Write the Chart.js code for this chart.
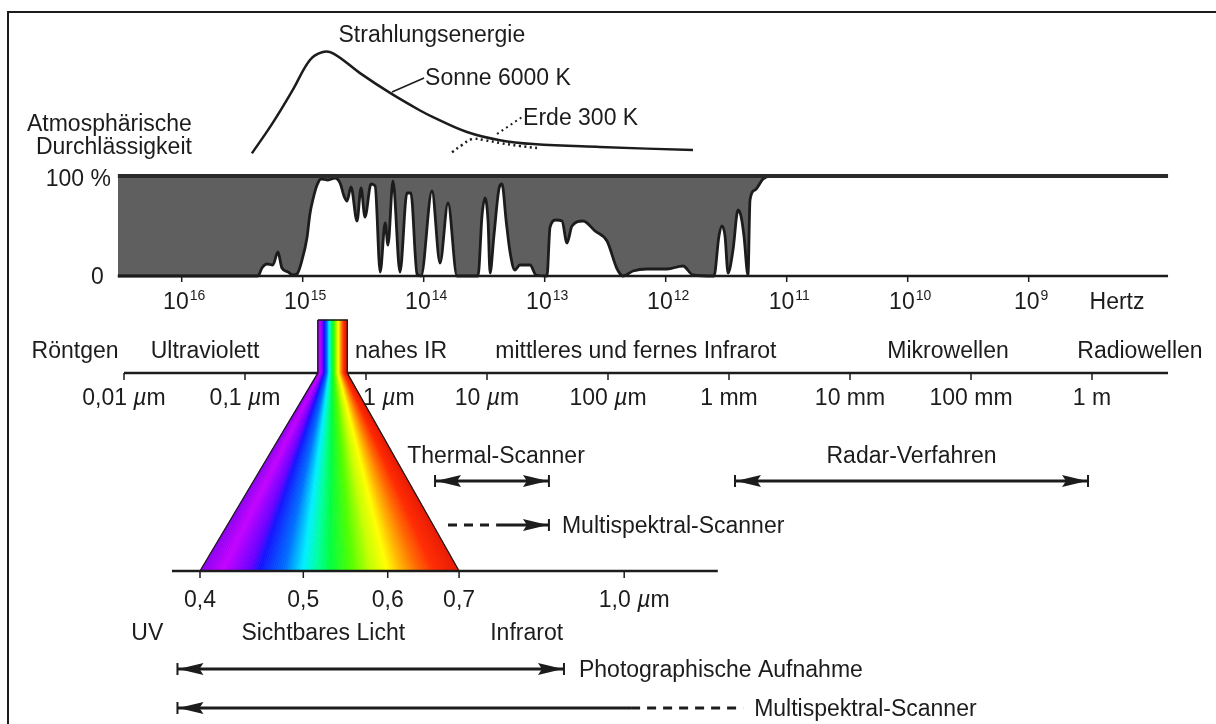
<!DOCTYPE html>
<html>
<head>
<meta charset="utf-8">
<script src="https://cdn.jsdelivr.net/npm/chart.js@4.4.0/dist/chart.umd.min.js"></script>
<style>
  html, body { margin: 0; padding: 0; background: #fff; }
  #wrap { width: 1216px; height: 724px; }
</style>
</head>
<body>
<div id="wrap"><canvas id="spektrum" width="1216" height="724"></canvas></div>
<script>
// --- Daten (Wellenlängen in µm) ---
// atmosphärische Durchlässigkeit in %
const transWavelength = [0.0089, 0.128, 0.138, 0.152, 0.170, 0.187, 0.202, 0.227, 0.249, 0.269,
  0.296, 0.325, 0.344, 0.365, 0.394, 0.425, 0.485, 0.555, 0.610, 0.658, 0.697, 0.752, 0.843,
  0.910, 0.981, 1.10, 1.19, 1.31, 1.44, 1.52, 1.67, 1.91, 2.18, 2.35, 2.64, 2.85, 3.51, 4.09,
  4.76, 5.65, 8.43, 9.09, 9.62, 10.2, 10.6, 11.4, 12.6, 13.3, 14.4, 15.5, 17.0, 18.7, 22.7,
  25.4, 31.3, 33.2, 37.2, 41.7, 45.8, 50.4, 62.1, 78.1, 98.1, 119, 133, 161, 210, 307, 417,
  504, 751, 826, 875, 927, 982, 1079, 1187, 1256, 1330, 1435, 1492, 1641, 1910, 2182, 4.25e6];
const transPercent = [0, 0, 8, 12, 11, 24, 8, 4, 1, 2,
  16, 38, 62, 77, 91, 97, 96, 98, 93, 80, 75, 89, 55,
  88, 59, 92, 90, 4, 53, 31, 95, 4, 83, 83, 2, 0, 85, 13,
  73, 0, 0, 60, 78, 55, 3, 40, 88, 92, 55, 24, 6, 11, 11,
  1, 0, 49, 56, 55, 33, 50, 55, 45, 35, 7, 0, 5, 7, 7, 10,
  1, 0, 40, 50, 40, 3, 26, 66, 60, 40, 1, 76, 86, 97, 100, 100];

// Strahlungsenergie (relativ)
const sunWavelength = [0.114, 0.170, 0.249, 0.344, 0.433, 0.534, 0.892, 1.58, 2.80, 3.58, 6.83, 12.8, 24.0, 85.9, 504];
const sunEnergy = [6, 34, 64, 91, 98, 97, 79, 61, 45, 39, 25.5, 18, 14.5, 11.8, 9];
const earthWavelength = [5.14, 6.21, 7.52, 9.62, 12.8, 18.7, 25.9];
const earthEnergy = [7, 13.6, 19, 18, 15.5, 12.7, 10.9];
const sunLeader = { wl: [1.64, 3.02], e: [61.8, 74.5] };
const earthLeader = { wl: [12.1, 19.5], e: [23.6, 39.1] };

// Achsen
const freqTicks = [1e16, 1e15, 1e14, 1e13, 1e12, 1e11, 1e10, 1e9];
const freqExponents = ['16', '15', '14', '13', '12', '11', '10', '9'];
const hertzPos = 1.61e6;
const wlTicks = [0.01, 0.1, 1, 10, 100, 1e3, 1e4, 1e5, 1e6];
const wlLabels = ['0,01 µm', '0,1 µm', '1 µm', '10 µm', '100 µm', '1 mm', '10 mm', '100 mm', '1 m'];
const regionNames = ['Röntgen', 'Ultraviolett', 'nahes IR', 'mittleres und fernes Infrarot', 'Mikrowellen', 'Radiowellen'];
const regionCenters = [0.00394, 0.0467, 1.95, 170, 6.46e4, 2.49e6];

// sichtbares Licht, Detailachse
const visibleRange = [0.4, 0.7];
const detailTicks = [0.4, 0.5, 0.6, 0.7, 1.0];
const detailLabels = ['0,4', '0,5', '0,6', '0,7', '1,0 µm'];
const detailAxisRange = [0.3765, 1.224];
const detailNames = ['UV', 'Sichtbares Licht', 'Infrarot'];
const detailCenters = [0.357, 0.522, 0.810];

// Aufnahmeverfahren
const thermalRange = [3.72, 32.5];
const radarRange = [1121, 9.27e5];
const multiUpperDashed = [4.76, 11.9];
const multiUpperSolid = [11.9, 32.5];
const photoRange = [0.381, 0.878];
const multiLowerSolid = [0.381, 1.015];
const multiLowerDashed = [1.015, 1.293];

// --- Layout ---
const W = 1216, H = 724;
const MAIN = { px1um: 366, pxDec: 121 };
const DETAIL = { px04: 200, pxDec: 1066 };
const TRANS = { px0: 276, px100: 176 };
const ENERGY = { px0: 160, pxPerUnit: 1.1 };
const ROW = { stripTop: 320, wlAxis: 373, scanners: 481, multiUpper: 525, detailAxis: 571, photo: 669, multiLower: 708 };
const TY = { title: 42, sonne: 85, erde: 125, atmo1: 131, atmo2: 154, pct100: 186, pct0: 284, freq: 309,
  regions: 358, wl: 405, scannerLabels: 463, multiUpper: 533, detail: 607, detailNames: 640, photo: 677, multiLower: 716 };
const INK = '#1c1c1c';
const GRAY = '#5f5f5f';
const FONT = '"Liberation Sans", Arial, Helvetica, sans-serif';
const FS = 23;
const visColors = [[0.40, '#8a00f0'], [0.42, '#c400ff'], [0.445, '#6a00ff'], [0.455, '#1414ff'], [0.48, '#0070ff'],
  [0.50, '#00f0ff'], [0.515, '#00ffa0'], [0.53, '#00ff40'], [0.555, '#50ff00'], [0.58, '#c8ff00'],
  [0.60, '#ffff00'], [0.62, '#ffae00'], [0.64, '#ff6a00'], [0.665, '#ff2a00'], [0.70, '#e81800']];

const xy = (xs, ys) => xs.map((x, i) => ({ x, y: ys[i] }));
const row = (range, y) => [{ x: range[0], y }, { x: range[1], y }];
const C = 2.998e14; // Lichtgeschwindigkeit in µm/s

function line(data, extra) {
  return Object.assign({ data, pointRadius: 0, borderColor: INK, borderWidth: 3, fill: false, tension: 0,
    xAxisID: 'x', yAxisID: 'yp' }, extra);
}

function hexRgb(h) { return [1, 3, 5].map(i => parseInt(h.slice(i, i + 2), 16)); }
function colorAt(l) {
  for (let i = 0; i < visColors.length - 1; i++) {
    const [a, ca] = visColors[i], [b, cb] = visColors[i + 1];
    if (l >= a && l <= b) {
      const t = (l - a) / (b - a), A = hexRgb(ca), B = hexRgb(cb);
      return 'rgb(' + A.map((v, k) => Math.round(v + (B[k] - v) * t)).join(',') + ')';
    }
  }
  return visColors[visColors.length - 1][1];
}

function setFont(ctx, size, italic) { ctx.font = (italic ? 'italic ' : '') + size + 'px ' + FONT; }
function parts(text) {
  const out = [];
  text.split('µ').forEach((p, i) => { if (i > 0) out.push({ t: 'µ', it: true }); if (p) out.push({ t: p, it: false }); });
  return out;
}
function richWidth(ctx, text, size) {
  return parts(text).reduce((w, p) => { setFont(ctx, size, p.it); return w + ctx.measureText(p.t).width; }, 0);
}
function drawRich(ctx, text, x, y, align, size) {
  size = size || FS;
  const w = richWidth(ctx, text, size);
  let cx = align === 'center' ? x - w / 2 : align === 'right' ? x - w : x;
  ctx.textAlign = 'left';
  parts(text).forEach(p => { setFont(ctx, size, p.it); ctx.fillText(p.t, cx, y); cx += ctx.measureText(p.t).width; });
}
function drawPow(ctx, exp, x, y) {
  setFont(ctx, FS); const w1 = ctx.measureText('10').width;
  setFont(ctx, 14); const w2 = ctx.measureText(exp).width;
  const left = x - (w1 + w2) / 2;
  ctx.textAlign = 'left';
  setFont(ctx, FS); ctx.fillText('10', left, y);
  setFont(ctx, 14); ctx.fillText(exp, left + w1 + 1, y - 9);
}
function head(ctx, tip, y, dir) {
  ctx.beginPath();
  ctx.moveTo(tip, y);
  ctx.lineTo(tip - dir * 25, y - 6);
  ctx.lineTo(tip - dir * 21, y);
  ctx.lineTo(tip - dir * 25, y + 6);
  ctx.closePath();
  ctx.fill();
}
function bar(ctx, x, y) { ctx.fillRect(x - 1, y - 6, 2, 12); }

const spectrumPlugin = {
  id: 'spectrum',
  afterDatasetsDraw(chart) {
    const { ctx, scales } = chart;
    const X = v => scales.x.getPixelForValue(v);
    const XD = v => scales.xd.getPixelForValue(v);
    const YP = v => scales.yp.getPixelForValue(v);
    const YT = v => scales.yt.getPixelForValue(v);
    ctx.save();

    // Fächer des sichtbaren Lichts
    const [l0, l1] = visibleRange;
    const yTop = YP(ROW.stripTop), yMid = YP(ROW.wlAxis), yBot = YP(ROW.detailAxis);
    const N = 150;
    ctx.lineWidth = 0.8;
    for (let i = 0; i < N; i++) {
      const a = l0 + (l1 - l0) * i / N, b = l0 + (l1 - l0) * (i + 1) / N;
      ctx.fillStyle = ctx.strokeStyle = colorAt((a + b) / 2);
      ctx.beginPath();
      ctx.moveTo(X(a), yTop); ctx.lineTo(X(b), yTop); ctx.lineTo(X(b), yMid);
      ctx.lineTo(XD(b), yBot); ctx.lineTo(XD(a), yBot); ctx.lineTo(X(a), yMid);
      ctx.closePath(); ctx.fill(); ctx.stroke();
    }
    ctx.strokeStyle = INK; ctx.lineWidth = 1.3;
    ctx.beginPath();
    ctx.moveTo(X(l0), yTop); ctx.lineTo(X(l1), yTop); ctx.lineTo(X(l1), yMid); ctx.lineTo(XD(l1), yBot);
    ctx.moveTo(X(l0), yTop); ctx.lineTo(X(l0), yMid); ctx.lineTo(XD(l0), yBot);
    ctx.stroke();
    ctx.lineWidth = 2.5;
    ctx.beginPath(); ctx.moveTo(XD(detailAxisRange[0]), yBot); ctx.lineTo(XD(detailAxisRange[1]), yBot); ctx.stroke();

    // Teilstriche
    ctx.fillStyle = INK;
    freqTicks.forEach(f => ctx.fillRect(X(C / f) - 0.75, YT(0), 1.5, 6));
    wlTicks.forEach(l => ctx.fillRect(X(l) - 0.75, yMid, 1.5, 7));
    detailTicks.forEach(l => ctx.fillRect(XD(l) - 0.75, yBot, 1.5, 7));

    // Pfeilspitzen und Endstriche
    const ys = YP(ROW.scanners);
    [thermalRange, radarRange].forEach(r => {
      bar(ctx, X(r[0]), ys); bar(ctx, X(r[1]), ys);
      head(ctx, X(r[0]) + 1, ys, -1); head(ctx, X(r[1]) - 1, ys, 1);
    });
    const ym = YP(ROW.multiUpper);
    bar(ctx, X(multiUpperSolid[1]), ym); head(ctx, X(multiUpperSolid[1]) - 1, ym, 1);
    const yph = YP(ROW.photo);
    bar(ctx, XD(photoRange[0]), yph); bar(ctx, XD(photoRange[1]), yph);
    head(ctx, XD(photoRange[0]) + 1, yph, -1); head(ctx, XD(photoRange[1]) - 1, yph, 1);
    const yml = YP(ROW.multiLower);
    bar(ctx, XD(multiLowerSolid[0]), yml); head(ctx, XD(multiLowerSolid[0]) + 1, yml, -1);
    ctx.restore();
  },
  afterDraw(chart) {
    const { ctx, scales } = chart;
    const X = v => scales.x.getPixelForValue(v);
    const XD = v => scales.xd.getPixelForValue(v);
    const YE = v => scales.ye.getPixelForValue(v);
    ctx.save();
    ctx.fillStyle = INK;
    ctx.textBaseline = 'alphabetic';

    drawRich(ctx, 'Strahlungsenergie', X(3.5), TY.title, 'center');
    drawRich(ctx, 'Sonne 6000 K', X(sunLeader.wl[1]) + 1, TY.sonne, 'left');
    drawRich(ctx, 'Erde 300 K', X(earthLeader.wl[1]) + 1, TY.erde, 'left');

    const boxLeft = X(transWavelength[0]);
    drawRich(ctx, 'Atmosphärische', boxLeft + 74, TY.atmo1, 'right');
    drawRich(ctx, 'Durchlässigkeit', boxLeft + 74, TY.atmo2, 'right');
    drawRich(ctx, '100 %', boxLeft - 7, TY.pct100, 'right');
    drawRich(ctx, '0', boxLeft - 14, TY.pct0, 'right');

    freqTicks.forEach((f, i) => drawPow(ctx, freqExponents[i], X(C / f) + 2, TY.freq));
    drawRich(ctx, 'Hertz', X(hertzPos), TY.freq, 'center');

    regionNames.forEach((n, i) => drawRich(ctx, n, X(regionCenters[i]), TY.regions, 'center'));
    wlLabels.forEach((n, i) => {
      if (wlTicks[i] === 1) drawRich(ctx, n, X(1) - 3, TY.wl, 'left');
      else drawRich(ctx, n, X(wlTicks[i]), TY.wl, 'center');
    });

    const mid = r => X(Math.sqrt(r[0] * r[1]));
    drawRich(ctx, 'Thermal-Scanner', mid(thermalRange) + 4, TY.scannerLabels, 'center');
    drawRich(ctx, 'Radar-Verfahren', mid(radarRange), TY.scannerLabels, 'center');
    drawRich(ctx, 'Multispektral-Scanner', X(multiUpperSolid[1]) + 13, TY.multiUpper, 'left');

    detailLabels.forEach((n, i) => drawRich(ctx, n, XD(detailTicks[i]) + (i === 4 ? 10 : 0), TY.detail, 'center'));
    detailNames.forEach((n, i) => drawRich(ctx, n, XD(detailCenters[i]), TY.detailNames, 'center'));
    drawRich(ctx, 'Photographische Aufnahme', XD(photoRange[1]) + 15, TY.photo, 'left');
    drawRich(ctx, 'Multispektral-Scanner', XD(multiLowerDashed[1]) + 11, TY.multiLower, 'left');

    // Rahmen
    ctx.fillRect(7, 11, W - 7, 2);
    ctx.fillRect(7, 11, 2, H - 11);
    ctx.restore();
  }
};

const datasets = [
  line(row([transWavelength[0], transWavelength[transWavelength.length - 1]], 100), { yAxisID: 'yt', borderWidth: 4, borderColor: '#2a2a2a' }),
  line(row([transWavelength[0], transWavelength[transWavelength.length - 1]], 0), { yAxisID: 'yt', borderWidth: 2.5 }),
  line(xy(transWavelength, transPercent), { yAxisID: 'yt', borderWidth: 2.8, backgroundColor: GRAY,
    fill: { value: 100 }, cubicInterpolationMode: 'monotone' }),
  line(xy(sunWavelength, sunEnergy), { yAxisID: 'ye', borderWidth: 2.5, tension: 0.4 }),
  line(xy(earthWavelength, earthEnergy), { yAxisID: 'ye', borderWidth: 2.5, tension: 0.4, borderDash: [2, 3.5] }),
  line(xy(sunLeader.wl, sunLeader.e), { yAxisID: 'ye', borderWidth: 1.6 }),
  line(xy(earthLeader.wl, earthLeader.e), { yAxisID: 'ye', borderWidth: 2, borderDash: [2, 3.5] }),
  line(row([wlTicks[0], transWavelength[transWavelength.length - 1]], ROW.wlAxis), { borderWidth: 2.5 }),
  line(row(thermalRange, ROW.scanners)),
  line(row(radarRange, ROW.scanners)),
  line(row(multiUpperDashed, ROW.multiUpper), { borderDash: [9, 7] }),
  line(row(multiUpperSolid, ROW.multiUpper)),
  line(row(photoRange, ROW.photo), { xAxisID: 'xd' }),
  line(row(multiLowerSolid, ROW.multiLower), { xAxisID: 'xd' }),
  line(row(multiLowerDashed, ROW.multiLower), { xAxisID: 'xd', borderDash: [9, 7] })
];

new Chart(document.getElementById('spektrum').getContext('2d'), {
  type: 'line',
  data: { datasets },
  options: {
    responsive: false,
    animation: false,
    events: [],
    layout: { padding: 0 },
    plugins: { legend: { display: false }, tooltip: { enabled: false } },
    scales: {
      x: { type: 'logarithmic', display: false,
        min: Math.pow(10, -MAIN.px1um / MAIN.pxDec), max: Math.pow(10, (W - MAIN.px1um) / MAIN.pxDec) },
      xd: { type: 'logarithmic', axis: 'x', display: false,
        min: 0.4 * Math.pow(10, -DETAIL.px04 / DETAIL.pxDec), max: 0.4 * Math.pow(10, (W - DETAIL.px04) / DETAIL.pxDec) },
      yt: { type: 'linear', axis: 'y', display: false,
        min: TRANS.px0 - H, max: TRANS.px0 },
      ye: { type: 'linear', axis: 'y', display: false,
        min: (ENERGY.px0 - H) / ENERGY.pxPerUnit, max: ENERGY.px0 / ENERGY.pxPerUnit },
      yp: { type: 'linear', axis: 'y', display: false, reverse: true, min: 0, max: H }
    }
  },
  plugins: [spectrumPlugin]
});
</script>
</body>
</html>
